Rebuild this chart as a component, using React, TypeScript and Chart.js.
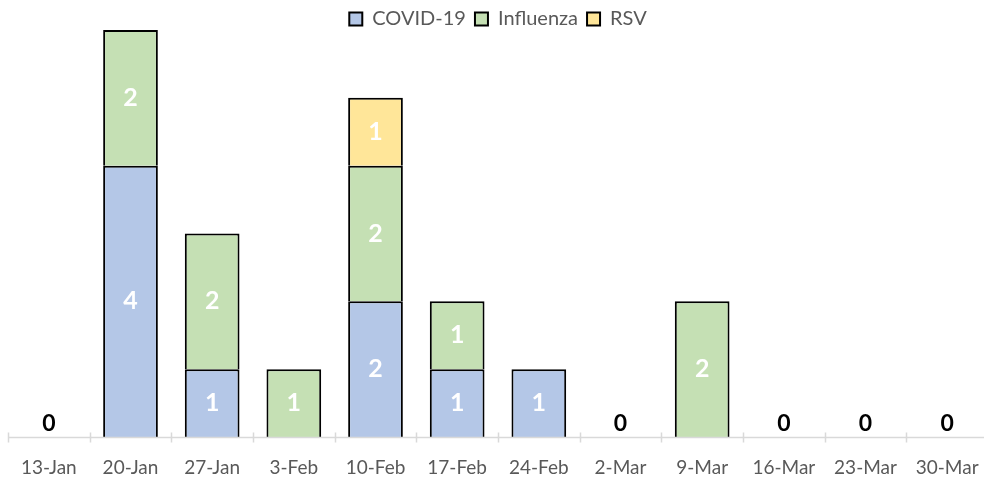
import React, { useEffect, useRef } from "react";
import { Chart, registerables } from "chart.js";

Chart.register(...registerables);

const categories = ["13-Jan", "20-Jan", "27-Jan", "3-Feb", "10-Feb", "17-Feb", "24-Feb", "2-Mar", "9-Mar", "16-Mar", "23-Mar", "30-Mar"];
const covid = [0, 4, 1, 0, 2, 1, 1, 0, 0, 0, 0, 0];
const influenza = [0, 2, 2, 1, 2, 1, 0, 0, 2, 0, 0, 0];
const rsv = [0, 0, 0, 0, 1, 0, 0, 0, 0, 0, 0, 0];

const FONT = "Lato, 'Noto Sans', sans-serif";

const legendFitPlugin = {
  id: "legendFitPlugin",
  afterInit(chart: any) {
    const legend = chart.legend;
    if (!legend) return;
    const orig = legend.fit.bind(legend);
    legend.fit = function () {
      orig();
      legend.height = 30;
    };
  },
};

const axisPlugin = {
  id: "axisPlugin",
  afterDatasetsDraw(chart: any) {
    const ctx = chart.ctx;
    const x = chart.scales.x;
    const area = chart.chartArea;
    const y0 = area.bottom + 0.5;
    ctx.save();
    ctx.strokeStyle = "#d9d9d9";
    ctx.lineWidth = 1.5;
    ctx.beginPath();
    ctx.moveTo(area.left, y0);
    ctx.lineTo(area.right, y0);
    const n = categories.length;
    const step = x.getPixelForValue(1) - x.getPixelForValue(0);
    for (let i = 0; i <= n; i++) {
      const px = Math.round(x.getPixelForValue(0) - step / 2 + i * step) + 0.5;
      ctx.moveTo(px, y0 - 5);
      ctx.lineTo(px, y0 + 5);
    }
    ctx.stroke();
    ctx.restore();
  },
};

const labelPlugin = {
  id: "labelPlugin",
  afterDatasetsDraw(chart: any) {
    const ctx = chart.ctx;
    ctx.save();
    ctx.textAlign = "center";
    ctx.textBaseline = "middle";
    chart.data.datasets.forEach((ds: any, di: number) => {
      const meta = chart.getDatasetMeta(di);
      meta.data.forEach((el: any, i: number) => {
        const v = ds.data[i];
        if (!v) return;
        ctx.fillStyle = "#ffffff";
        ctx.font = `bold 25px ${FONT}`;
        ctx.fillText(String(v), el.x, (el.y + el.base) / 2);
      });
    });
    const ys = chart.scales.y;
    categories.forEach((_, i) => {
      const total = covid[i] + influenza[i] + rsv[i];
      if (total === 0) {
        const px = chart.scales.x.getPixelForValue(i);
        ctx.fillStyle = "#000000";
        ctx.font = `bold 23px ${FONT}`;
        ctx.fillText("0", px, ys.getPixelForValue(0) - 13);
      }
    });
    ctx.restore();
  },
};

export default function App() {
  const ref = useRef<HTMLCanvasElement>(null);
  useEffect(() => {
    if (!ref.current) return;
    const common = { borderColor: "#000000", borderWidth: 2, barPercentage: 0.67, categoryPercentage: 1 };
    const chart = new Chart(ref.current, {
      type: "bar",
      data: {
        labels: categories,
        datasets: [
          { label: "COVID-19", data: covid, backgroundColor: "#b4c7e7", ...common },
          { label: "Influenza", data: influenza, backgroundColor: "#c5e0b4", ...common },
          { label: "RSV", data: rsv, backgroundColor: "#ffe699", ...common },
        ],
      },
      options: {
        animation: false,
        responsive: false,
        layout: { padding: { left: 8, right: 12, top: 0, bottom: 0 } },
        plugins: {
          legend: {
            position: "top",
            labels: {
              boxWidth: 13,
              boxHeight: 13,
              padding: 9,
              color: "#595959",
              font: { family: FONT, size: 20 },
            },
          },
          tooltip: { enabled: false },
        },
        scales: {
          x: {
            stacked: true,
            offset: true,
            grid: { display: false, drawTicks: false },
            border: { display: false },
            ticks: { color: "#595959", font: { family: FONT, size: 19 }, padding: 19, maxRotation: 0, autoSkip: false },
            afterFit(scale: any) {
              scale.height = 40;
            },
          },
          y: {
            stacked: true,
            display: false,
            min: 0,
            max: 6,
          },
        },
      },
      plugins: [legendFitPlugin, axisPlugin, labelPlugin],
    });
    return () => chart.destroy();
  }, []);
  return (
    <div style={{ position: "absolute", left: 0, top: 0, width: 984, height: 477, overflow: "hidden", background: "#fff" }}>
      <canvas ref={ref} width={1000} height={477} />
    </div>
  );
}
